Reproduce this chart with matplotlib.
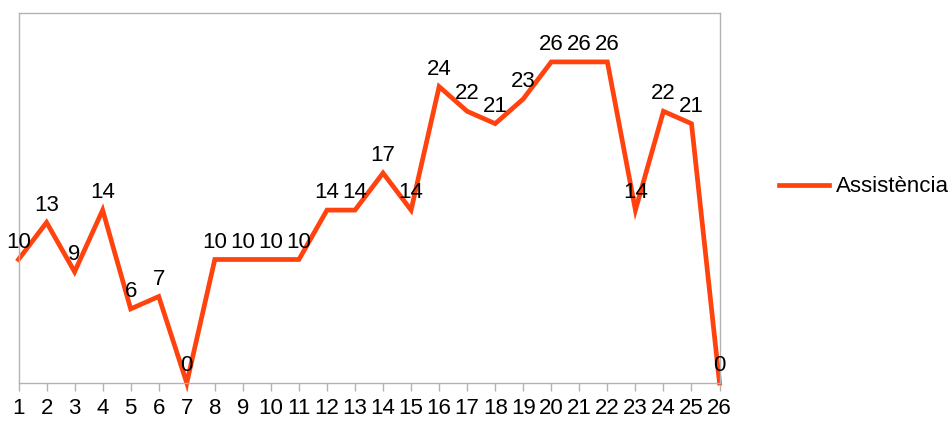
import matplotlib.pyplot as plt

plt.rcParams['font.family'] = ['Liberation Sans', 'DejaVu Sans']

# Data
sessions = list(range(1, 27))
assistencia = [10, 13, 9, 14, 6, 7, 0, 10, 10, 10, 10, 14, 14, 17, 14,
               24, 22, 21, 23, 26, 26, 26, 14, 22, 21, 0]

fig = plt.figure(figsize=(9.5, 4.21), dpi=100)
ax = fig.add_axes([0.0195, 0.0903, 0.7379, 0.88])

line, = ax.plot(sessions, assistencia, color='#ff420e', linewidth=3.4,
                solid_joinstyle='miter', clip_on=False, label='Assistència')

for x, y in zip(sessions, assistencia):
    ax.annotate(str(y), (x, y), xytext=(0, 12.5), textcoords='offset points',
                ha='center', va='center', fontsize=16, color='black')

ax.set_xlim(1, 26)
ax.set_ylim(0, 30)
ax.set_xticks(sessions)
ax.set_xticklabels([str(s) for s in sessions], fontsize=16)
ax.set_yticks([])
ax.tick_params(axis='x', direction='out', length=6, width=1, color='#b3b3b3', pad=5)
for sp in ax.spines.values():
    sp.set_color('#b3b3b3')
    sp.set_linewidth(1)

fig.legend(handles=[line], loc='center left', bbox_to_anchor=(0.799, 0.556),
           frameon=False, fontsize=16, handlelength=2.25, handletextpad=0.3)

plt.savefig('out.png', dpi=100)
plt.close()
